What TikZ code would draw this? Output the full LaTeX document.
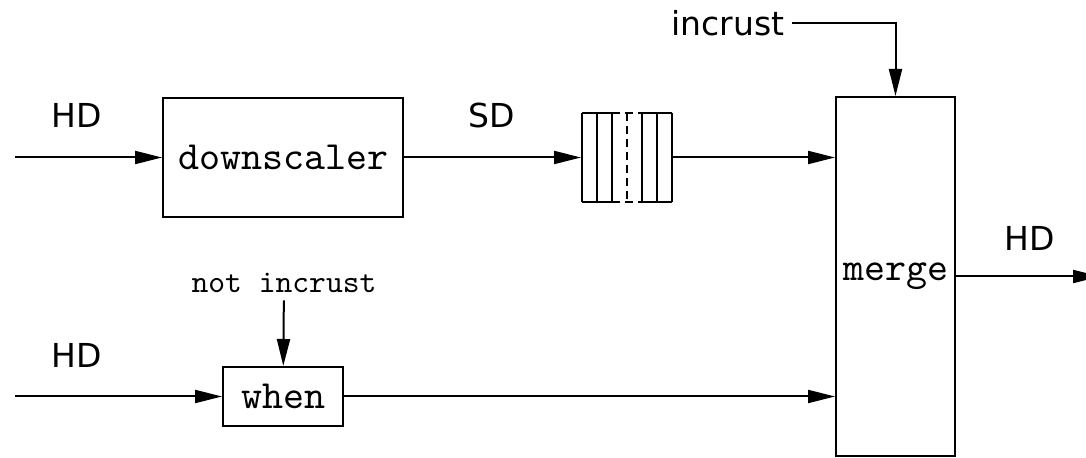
\documentclass[tikz,border=0pt]{standalone}
\usepackage{fontspec}
\setsansfont{DejaVu Sans}
\setmonofont{lmmono10-regular.otf}
\usepackage{tikz}
\usetikzlibrary{arrows.meta}

\begin{document}
\begin{tikzpicture}[x=0.5pt,y=-0.5pt,line width=1pt,
	>={Triangle[length=13.5pt,width=6.5pt]},
	block/.style={draw, inner sep=0pt, font=\fontsize{20}{24}\selectfont\ttfamily},
	sig/.style={font=\fontsize{16.5}{19}\selectfont\sffamily},
	cond/.style={font=\fontsize{16}{19}\selectfont\ttfamily}]
	
	\useasboundingbox (0,0) rectangle (1086,458);
	
	\node [block, minimum width=120pt, minimum height=59.5pt] (down) at (283,157.5) {downscaler};
	\node [block, minimum width=60pt, minimum height=29.5pt] (when) at (283,396.5) {when};
	\node [block, minimum width=59.5pt, minimum height=179.5pt] (merge) at (895.5,276.5) {merge};
	\node [inner sep=0pt, minimum width=45pt, minimum height=44.5pt] (fifo) at (627,157.5) {};
	
	% fifo cells
	\foreach \x in {582,597,612,642,657,672}
		\draw (\x,113) -- (\x,202);
	\draw (582,113) -- (612,113) (642,113) -- (672,113);
	\draw (582,202) -- (612,202) (642,202) -- (672,202);
	\draw [dash pattern=on 4pt off 2.5pt] (612,113) -- (642,113) (612,202) -- (642,202) (627,113) -- (627,202);
	
	\node [sig] (hdtop) at (77,115) {HD};
	\node [sig] (hdbot) at (77,355) {HD};
	\node [sig] (sd) at (492,115) {SD};
	\node [sig] (hdout) at (1030,238) {HD};
	\node [sig, anchor=east] (incr) at (792,23) {incrust};
	\node [cond] (nincr) at (284,283) {not incrust};
	
	\coordinate (intop) at (15,157.5);
	\coordinate (inbot) at (15,396.5);
	\coordinate (out) at (1100,276.5);
	
	\draw [->] (intop) -- (down);
	\draw [->] (down) -- (fifo);
	\draw [->] (fifo.east) -- (fifo.east -| merge.west);
	\draw [->] (inbot) -- (when);
	\draw [->] (when) -- (when -| merge.west);
	\draw [->] (nincr) -- (when);
	\draw [->] (incr.east) -| (merge.north);
	\draw [->] (merge) -- (out);
	
\end{tikzpicture}
\end{document}
